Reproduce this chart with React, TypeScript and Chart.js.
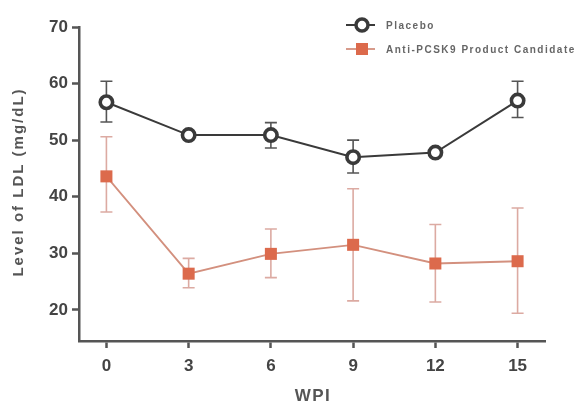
import React, { useEffect, useRef } from "react";
import { Chart, registerables } from "chart.js";

Chart.register(...registerables);

const weeks = [0, 3, 6, 9, 12, 15];
const xTicks = [0, 3, 6, 9, 12, 15];
const yTicks = [20, 30, 40, 50, 60, 70];

const placeboMean = [56.7, 50.9, 50.9, 47.0, 47.8, 57.0];
const placeboHigh = [60.4, 51.5, 53.1, 50.0, 48.4, 60.4];
const placeboLow = [53.2, 50.3, 48.6, 44.2, 47.2, 54.0];

const antiMean = [43.6, 26.4, 29.9, 31.5, 28.2, 28.6];
const antiHigh = [50.6, 29.1, 34.3, 41.4, 35.1, 38.0];
const antiLow = [37.3, 23.9, 25.7, 21.6, 21.4, 19.4];

const seriesNames = ["Placebo", "Anti-PCSK9 Product Candidate"];
const yTitle = "Level of LDL (mg/dL)";
const xTitle = "WPI";

const PLACEBO = "#3a3a3a";
const ANTI = "#dc6a4c";
const ANTI_LINE = "#d3907e";
const ANTI_ERR = "#dcaaa2";
const AXIS = "#555555";
const FONT = "'Liberation Sans', Arial, sans-serif";

const errorBars = {
  id: "errorBars",
  beforeDatasetsDraw(chart: any) {
    const { ctx, scales } = chart;
    const xs = scales.x;
    const ys = scales.y;
    const sets = [
      { hi: placeboHigh, lo: placeboLow, color: "#555555", w: 1.6 },
      { hi: antiHigh, lo: antiLow, color: ANTI_ERR, w: 1.6 },
    ];
    ctx.save();
    sets.forEach((s) => {
      ctx.strokeStyle = s.color;
      ctx.lineWidth = s.w;
      weeks.forEach((wk, i) => {
        const x = xs.getPixelForValue(wk);
        const yh = ys.getPixelForValue(s.hi[i]);
        const yl = ys.getPixelForValue(s.lo[i]);
        ctx.beginPath();
        ctx.moveTo(x, yh);
        ctx.lineTo(x, yl);
        ctx.moveTo(x - 6, yh);
        ctx.lineTo(x + 6, yh);
        ctx.moveTo(x - 6, yl);
        ctx.lineTo(x + 6, yl);
        ctx.stroke();
      });
    });
    ctx.restore();
  },
  afterDraw(chart: any) {
    const { ctx } = chart;
    ctx.save();
    // y title
    ctx.fillStyle = "#555555";
    ctx.font = `bold 15px ${FONT}`;
    (ctx as any).letterSpacing = "2px";
    ctx.textAlign = "center";
    ctx.textBaseline = "middle";
    ctx.translate(19, 182);
    ctx.rotate(-Math.PI / 2);
    ctx.fillText(yTitle, 0, 0);
    ctx.restore();

    ctx.save();
    ctx.fillStyle = "#555555";
    ctx.font = `bold 17px ${FONT}`;
    (ctx as any).letterSpacing = "1.5px";
    ctx.textAlign = "center";
    ctx.textBaseline = "middle";
    ctx.fillText(xTitle, chart.scales.x.getPixelForValue(7.5) + 1, 396);
    ctx.restore();

    // legend
    ctx.save();
    const lx = 346, lx2 = 375, mx = 362;
    const ly = [25, 49];
    ctx.strokeStyle = PLACEBO;
    ctx.lineWidth = 2;
    ctx.beginPath();
    ctx.moveTo(lx, ly[0]);
    ctx.lineTo(lx2, ly[0]);
    ctx.stroke();
    ctx.fillStyle = "#ffffff";
    ctx.lineWidth = 3.5;
    ctx.beginPath();
    ctx.arc(mx, ly[0], 6, 0, Math.PI * 2);
    ctx.fill();
    ctx.stroke();
    ctx.strokeStyle = ANTI_LINE;
    ctx.lineWidth = 1.8;
    ctx.beginPath();
    ctx.moveTo(lx, ly[1]);
    ctx.lineTo(lx2, ly[1]);
    ctx.stroke();
    ctx.fillStyle = ANTI;
    ctx.fillRect(mx - 6, ly[1] - 6, 12, 12);

    ctx.fillStyle = "#666666";
    ctx.font = `bold 10px ${FONT}`;
    (ctx as any).letterSpacing = "1.5px";
    ctx.textAlign = "left";
    ctx.textBaseline = "middle";
    ctx.fillText(seriesNames[0], 386, ly[0] + 1);
    ctx.fillText(seriesNames[1], 386, ly[1] + 1);
    ctx.restore();
  },
};

export default function App() {
  const ref = useRef<HTMLCanvasElement | null>(null);
  useEffect(() => {
    if (!ref.current) return;
    const chart = new Chart(ref.current, {
      type: "line",
      data: {
        datasets: [
          {
            label: seriesNames[0],
            data: weeks.map((w, i) => ({ x: w, y: placeboMean[i] })),
            borderColor: PLACEBO,
            borderWidth: 2,
            pointStyle: "circle",
            pointRadius: 6.2,
            pointBorderWidth: 3.6,
            pointBackgroundColor: "#ffffff",
            pointBorderColor: PLACEBO,
            tension: 0,
          },
          {
            label: seriesNames[1],
            data: weeks.map((w, i) => ({ x: w, y: antiMean[i] })),
            borderColor: ANTI_LINE,
            borderWidth: 1.8,
            pointStyle: "rect",
            pointRadius: 8.5,
            pointBorderWidth: 0,
            pointBackgroundColor: ANTI,
            pointBorderColor: ANTI,
            tension: 0,
          },
        ],
      },
      options: {
        responsive: false,
        animation: false,
        layout: { padding: { top: 27, right: 32, left: 0, bottom: 0 } },
        plugins: {
          legend: { display: false },
          tooltip: { enabled: false },
          title: { display: false },
        },
        scales: {
          x: {
            type: "linear",
            min: -1,
            max: 16,
            afterBuildTicks: (scale: any) => {
              scale.ticks = xTicks.map((v) => ({ value: v }));
            },
            afterFit: (scale: any) => {
              scale.height = 64;
            },
            grid: {
              display: true,
              drawOnChartArea: false,
              drawTicks: true,
              tickLength: 7,
              tickWidth: 2.5,
              tickColor: AXIS,
            },
            border: { display: true, color: AXIS, width: 2.5 },
            ticks: {
              color: "#444444",
              font: { family: FONT, size: 17, weight: "bold" },
              padding: 8,
              autoSkip: false,
              maxRotation: 0,
            },
          },
          y: {
            type: "linear",
            min: 14.5,
            max: 70,
            afterBuildTicks: (scale: any) => {
              scale.ticks = yTicks.map((v) => ({ value: v }));
            },
            afterFit: (scale: any) => {
              scale.width = 79;
            },
            grid: {
              display: true,
              drawOnChartArea: false,
              drawTicks: true,
              tickLength: 7,
              tickWidth: 2.5,
              tickColor: AXIS,
            },
            border: { display: true, color: AXIS, width: 2.5 },
            ticks: {
              color: "#444444",
              font: { family: FONT, size: 17, weight: "bold" },
              padding: 4,
              autoSkip: false,
            },
          },
        },
      },
      plugins: [errorBars],
    });
    return () => chart.destroy();
  }, []);
  return (
    <div style={{ position: "fixed", left: 0, top: 0, width: 577, height: 405, background: "#fff" }}>
      <canvas ref={ref} width={577} height={405} style={{ width: 577, height: 405 }} />
    </div>
  );
}
